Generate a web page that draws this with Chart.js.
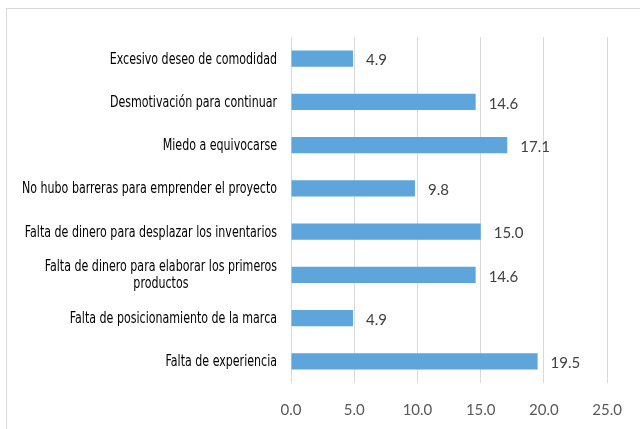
<!DOCTYPE html>
<html>
<head>
<meta charset="utf-8">
<script src="https://cdn.jsdelivr.net/npm/chart.js@4/dist/chart.umd.min.js"></script>
<style>
  html, body { margin: 0; padding: 0; background: #fff; overflow: hidden; }
  #wrap { position: relative; width: 640px; height: 429px; }
  #frame { position: absolute; left: 6px; top: 8px; width: 700px; height: 500px; border: 1px solid #d9d9d9; }
  canvas { position: absolute; left: 0; top: 0; }
</style>
</head>
<body>
<div id="wrap">
  <div id="frame"></div>
  <canvas id="barrierChart" width="640" height="429"></canvas>
</div>
<script>
  // data
  const categories = [
    'Excesivo deseo de comodidad',
    'Desmotivación para continuar',
    'Miedo a equivocarse',
    'No hubo barreras para emprender el proyecto',
    'Falta de dinero para desplazar los inventarios',
    ['Falta de dinero para elaborar los primeros', 'productos'],
    'Falta de posicionamiento de la marca',
    'Falta de experiencia'
  ];
  const percentages = [4.9, 14.6, 17.1, 9.8, 15.0, 14.6, 4.9, 19.5];
  const xTicks = [0, 5, 10, 15, 20, 25];

  const labelFont = '15px "DejaVu Sans Condensed", "Liberation Sans Narrow", sans-serif';

  // category labels: narrow tall font, multi-line ones centred like the original
  const categoryLabels = {
    id: 'categoryLabels',
    afterDraw(chart) {
      const ctx = chart.ctx;
      const y = chart.scales.y;
      const right = chart.chartArea.left - 14;
      ctx.save();
      ctx.font = labelFont;
      // squeeze glyphs horizontally to get the condensed look
      const squeeze = 255 / ctx.measureText('No hubo barreras para emprender el proyecto').width;
      ctx.fillStyle = '#000';
      ctx.textBaseline = 'middle';
      ctx.textAlign = 'center';
      categories.forEach((cat, i) => {
        const lines = Array.isArray(cat) ? cat : [cat];
        const w = Math.max(...lines.map(l => ctx.measureText(l).width)) * squeeze;
        const cx = right - w / 2;
        const lh = 17;
        const cy = y.getPixelForTick(i) + 1 - (lines.length - 1) * lh / 2;
        lines.forEach((l, k) => {
          ctx.save();
          ctx.translate(cx, cy + k * lh);
          ctx.scale(squeeze, 1);
          ctx.fillText(l, 0, 0);
          ctx.restore();
        });
      });
      ctx.restore();
    }
  };

  // value labels at the end of each bar
  const valueLabels = {
    id: 'valueLabels',
    afterDatasetsDraw(chart) {
      const ctx = chart.ctx;
      const meta = chart.getDatasetMeta(0);
      ctx.save();
      ctx.font = '15px Lato, "Open Sans", sans-serif';
      ctx.fillStyle = '#404040';
      ctx.textBaseline = 'middle';
      ctx.textAlign = 'left';
      meta.data.forEach((bar, i) => {
        ctx.fillText(percentages[i].toFixed(1), bar.x + 13, bar.y + 2);
      });
      ctx.restore();
    }
  };

  const ctx1 = document.getElementById('barrierChart').getContext('2d');
  new Chart(ctx1, {
    type: 'bar',
    data: {
      labels: categories,
      datasets: [{ data: percentages, backgroundColor: '#5DA5DA', barPercentage: 0.37, categoryPercentage: 1 }]
    },
    options: {
      indexAxis: 'y',
      responsive: false,
      animation: false,
      layout: { padding: { top: 37, right: 32, bottom: 0, left: 0 } },
      plugins: { legend: { display: false }, tooltip: { enabled: false } },
      scales: {
        x: {
          min: 0, max: 25,
          afterBuildTicks: axis => { axis.ticks = xTicks.map(v => ({ value: v })); },
          afterFit: axis => { axis.height = 46; },
          grid: { color: '#d9d9d9', drawTicks: false },
          border: { display: false },
          ticks: {
            padding: 18,
            color: '#595959',
            font: { family: 'Lato, "Open Sans", sans-serif', size: 15 },
            callback: v => v.toFixed(1)
          }
        },
        y: {
          afterFit: axis => { axis.width = 291; },
          grid: { display: false },
          border: { display: false },
          ticks: { display: false }
        }
      }
    },
    plugins: [categoryLabels, valueLabels]
  });
</script>
</body>
</html>
